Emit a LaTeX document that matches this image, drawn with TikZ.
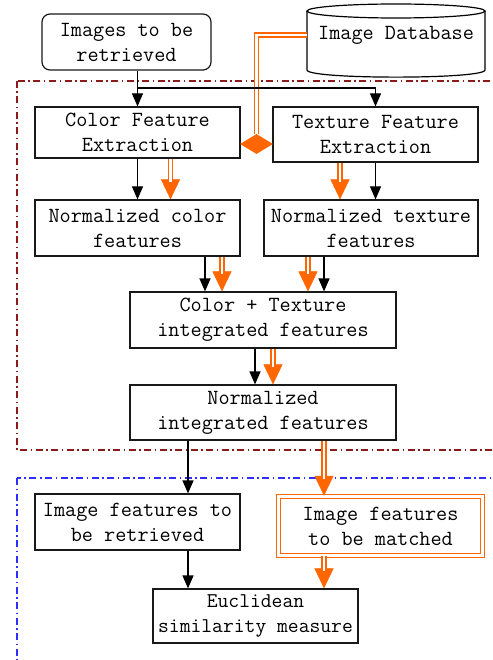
\documentclass[tikz,border=0pt]{standalone}
\usepackage{fontspec}
\usetikzlibrary{arrows.meta,shapes.geometric}
\definecolor{oran}{HTML}{FF6600}
\definecolor{fred}{HTML}{8B1A1A}
\definecolor{fblue}{HTML}{2E2EFF}
\newcommand\orarrow[2]{\draw[otip] #1 -- #2; \draw[odbl, shorten >=17pt] #1 -- #2;}
\begin{document}
\begin{tikzpicture}[x=1pt, y=-1pt,
  box/.style={draw=black!90, line width=1.2pt, inner sep=0pt, align=center,
    font=\ttfamily\fontsize{21.6pt}{25pt}\selectfont},
  txt/.style={inner sep=0pt, align=center, font=\ttfamily\fontsize{21.6pt}{25pt}\selectfont},
  barr/.style={draw=black, line width=1.2pt, -{Triangle[length=13pt,width=11pt]}},
  otip/.style={draw=oran, fill=oran, line width=0.5pt, -{Triangle[length=20pt,width=19pt]}},
  odbl/.style={draw=oran, line width=1.3pt, double=white, double distance=2.8pt},
  frame/.style={line width=1.3pt, dash pattern=on 7pt off 3.5pt on 1.5pt off 3.5pt}
]
\clip (0,0) rectangle (492,660);
\fill[white] (0,0) rectangle (492,660);
% frames
\draw[frame, fred] (17,81) rectangle (520,450);
\draw[frame, fblue] (17,478) rectangle (520,690);
% cylinder
\draw[line width=1.2pt, fill=white] (307,11) -- (307,70) .. controls (307,79.5) and (485,79.5) .. (485,70) -- (485,11);
\draw[line width=1.2pt, fill=white] (396,11) ellipse [x radius=89, y radius=7];
\node[txt, minimum width=178pt] (idb) at (396,35) {Image Database};
% boxes
\node[box, rounded corners=8pt, minimum width=169pt, minimum height=56pt] (itbr) at (126.5,42) {Images to be\\retrieved};
\node[box, minimum width=205pt, minimum height=51pt] (cfe) at (137.5,132.5) {Color Feature\\Extraction};
\node[box, minimum width=205pt, minimum height=55pt] (tfe) at (375.5,134.5) {Texture Feature\\Extraction};
\node[box, minimum width=205pt, minimum height=56pt] (ncf) at (137.5,228) {Normalized color\\features};
\node[box, minimum width=214pt, minimum height=56pt] (ntf) at (371,228) {Normalized texture\\features};
\node[box, minimum width=266pt, minimum height=56pt] (cti) at (263,320) {Color + Texture\\integrated features};
\node[box, minimum width=266pt, minimum height=55pt] (nif) at (263,412.5) {Normalized\\integrated features};
\node[box, minimum width=205pt, minimum height=56pt] (ifr) at (137.5,522) {Image features to\\be retrieved};
\node[box, draw=oran, line width=1.5pt, double=white, double distance=2.6pt, minimum width=204pt, minimum height=59pt] (ifm) at (380.5,526) {Image features\\to be matched};
\node[box, minimum width=205pt, minimum height=54pt, font=\ttfamily\fontsize{21pt}{25pt}\selectfont] (euc) at (255.5,616) {Euclidean\\similarity measure};
\node[diamond, fill=oran, inner sep=0pt, minimum width=33pt, minimum height=20pt] (jn) at (256.5,144) {};
% database to junction
\draw[odbl] (idb.west) -| (jn.north);
% black connectors
\coordinate (br) at (137.5,88);
\draw[barr] (itbr.south -| cfe.north) -- (cfe.north);
\draw[barr] (br) -| (tfe.north);
\draw[barr] (cfe.south) -- (ncf.north);
\draw[barr] (tfe.south) -- (tfe.south |- ntf.north);
\draw[barr] ([xshift=67.5pt]ncf.south) -- ([xshift=67.5pt]ncf.south |- cti.north);
\draw[barr] ([xshift=-47pt]ntf.south) -- ([xshift=-47pt]ntf.south |- cti.north);
\draw[barr] ([xshift=-8pt]cti.south) -- ([xshift=-8pt]nif.north);
\draw[barr] ([xshift=-75pt]nif.south) -- ([xshift=-75pt]nif.south |- ifr.north);
\draw[barr] ([xshift=50.5pt]ifr.south) -- ([xshift=50.5pt]ifr.south |- euc.north);
% orange connectors
\orarrow{([xshift=33pt]cfe.south)}{([xshift=33pt]ncf.north)}
\orarrow{([xshift=-35.5pt]tfe.south)}{([xshift=-35.5pt]tfe.south |- ntf.north)}
\orarrow{([xshift=84.5pt]ncf.south)}{([xshift=84.5pt]ncf.south |- cti.north)}
\orarrow{([xshift=-63pt]ntf.south)}{([xshift=-63pt]ntf.south |- cti.north)}
\orarrow{([xshift=10pt]cti.south)}{([xshift=10pt]nif.north)}
\orarrow{([xshift=61pt]nif.south)}{([xshift=61pt]nif.south |- ifm.north)}
\orarrow{([xshift=-56.5pt]ifm.south)}{([xshift=-56.5pt]ifm.south |- euc.north)}
\end{tikzpicture}
\end{document}
